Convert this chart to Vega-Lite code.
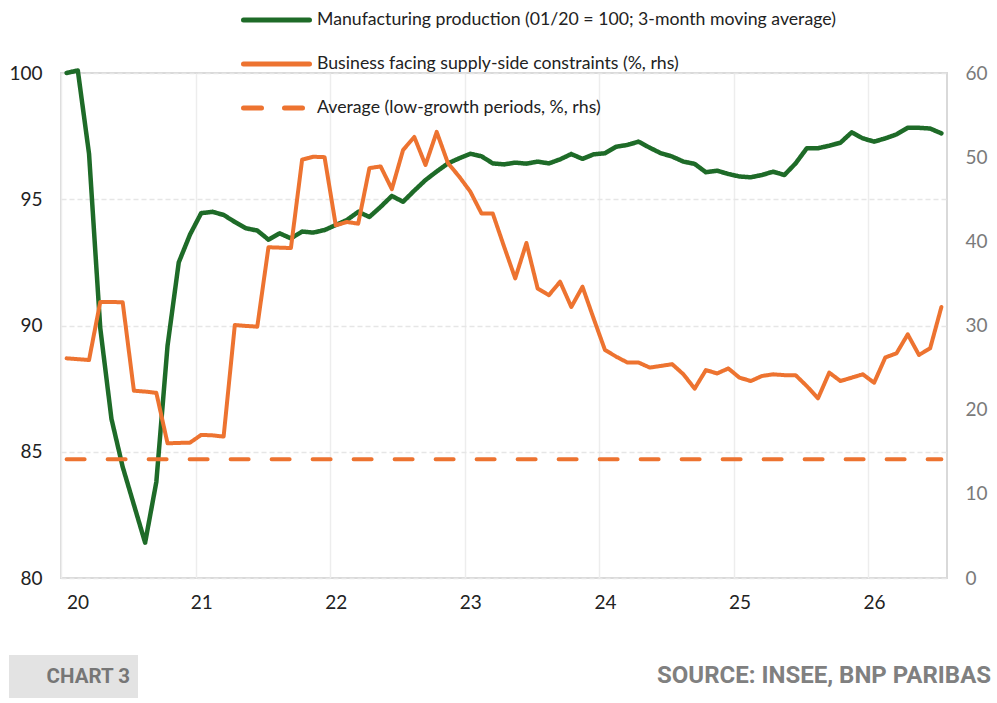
{
  "$schema": "https://vega.github.io/schema/vega-lite/v6.json",
  "width": 886,
  "height": 505,
  "autosize": {"type": "none"},
  "padding": {"left": 61, "top": 73, "right": 50, "bottom": 125},
  "background": "white",
  "config": {
    "view": {"stroke": "#d9d9d9", "strokeWidth": 2},
    "font": "Lato"
  },
  "title": {
    "text": "SOURCE: INSEE, BNP PARIBAS",
    "orient": "bottom",
    "anchor": "end",
    "frame": "bounds",
    "font": "Roboto",
    "fontSize": 24,
    "fontWeight": "bold",
    "color": "#808080",
    "offset": -34,
    "dx": 4
  },
  "datasets": {
    "monthly": [
      {"m": 0, "prod": 100.0, "supply": 26.1},
      {"m": 1, "prod": 100.1, "supply": 26.0},
      {"m": 2, "prod": 96.8, "supply": 25.9},
      {"m": 3, "prod": 89.9, "supply": 32.8},
      {"m": 4, "prod": 86.3, "supply": 32.8},
      {"m": 5, "prod": 84.4, "supply": 32.75},
      {"m": 6, "prod": 82.9, "supply": 22.25},
      {"m": 7, "prod": 81.4, "supply": 22.15},
      {"m": 8, "prod": 83.8, "supply": 22.0},
      {"m": 9, "prod": 89.2, "supply": 16.0},
      {"m": 10, "prod": 92.5, "supply": 16.05},
      {"m": 11, "prod": 93.6, "supply": 16.08},
      {"m": 12, "prod": 94.45, "supply": 17.0},
      {"m": 13, "prod": 94.5, "supply": 16.95},
      {"m": 14, "prod": 94.38, "supply": 16.8},
      {"m": 15, "prod": 94.1, "supply": 30.06},
      {"m": 16, "prod": 93.85, "supply": 29.95},
      {"m": 17, "prod": 93.76, "supply": 29.86},
      {"m": 18, "prod": 93.4, "supply": 39.3},
      {"m": 19, "prod": 93.65, "supply": 39.25},
      {"m": 20, "prod": 93.45, "supply": 39.2},
      {"m": 21, "prod": 93.72, "supply": 49.7},
      {"m": 22, "prod": 93.68, "supply": 50.05},
      {"m": 23, "prod": 93.78, "supply": 50.0},
      {"m": 24, "prod": 93.98, "supply": 41.9},
      {"m": 25, "prod": 94.18, "supply": 42.3},
      {"m": 26, "prod": 94.5, "supply": 42.1},
      {"m": 27, "prod": 94.3, "supply": 48.7},
      {"m": 28, "prod": 94.7, "supply": 48.9},
      {"m": 29, "prod": 95.13, "supply": 46.2},
      {"m": 30, "prod": 94.9, "supply": 50.85},
      {"m": 31, "prod": 95.34, "supply": 52.4},
      {"m": 32, "prod": 95.76, "supply": 49.07},
      {"m": 33, "prod": 96.1, "supply": 53.0},
      {"m": 34, "prod": 96.42, "supply": 49.3},
      {"m": 35, "prod": 96.62, "supply": 47.7},
      {"m": 36, "prod": 96.8, "supply": 45.9},
      {"m": 37, "prod": 96.7, "supply": 43.3},
      {"m": 38, "prod": 96.42, "supply": 43.3},
      {"m": 39, "prod": 96.38, "supply": 39.4},
      {"m": 40, "prod": 96.45, "supply": 35.6},
      {"m": 41, "prod": 96.41, "supply": 39.8},
      {"m": 42, "prod": 96.49, "supply": 34.4},
      {"m": 43, "prod": 96.42, "supply": 33.6},
      {"m": 44, "prod": 96.58, "supply": 35.2},
      {"m": 45, "prod": 96.79, "supply": 32.2},
      {"m": 46, "prod": 96.6, "supply": 34.6},
      {"m": 47, "prod": 96.78, "supply": 30.8},
      {"m": 48, "prod": 96.82, "supply": 27.1},
      {"m": 49, "prod": 97.08, "supply": 26.3},
      {"m": 50, "prod": 97.15, "supply": 25.6},
      {"m": 51, "prod": 97.28, "supply": 25.6},
      {"m": 52, "prod": 97.04, "supply": 25.0},
      {"m": 53, "prod": 96.82, "supply": 25.2},
      {"m": 54, "prod": 96.69, "supply": 25.4},
      {"m": 55, "prod": 96.49, "supply": 24.2},
      {"m": 56, "prod": 96.4, "supply": 22.5},
      {"m": 57, "prod": 96.07, "supply": 24.7},
      {"m": 58, "prod": 96.13, "supply": 24.3},
      {"m": 59, "prod": 96.0, "supply": 24.9},
      {"m": 60, "prod": 95.9, "supply": 23.8},
      {"m": 61, "prod": 95.87, "supply": 23.4},
      {"m": 62, "prod": 95.96, "supply": 24.0},
      {"m": 63, "prod": 96.09, "supply": 24.2},
      {"m": 64, "prod": 95.96, "supply": 24.1},
      {"m": 65, "prod": 96.42, "supply": 24.1},
      {"m": 66, "prod": 97.02, "supply": 22.8},
      {"m": 67, "prod": 97.02, "supply": 21.35},
      {"m": 68, "prod": 97.12, "supply": 24.4},
      {"m": 69, "prod": 97.24, "supply": 23.4},
      {"m": 70, "prod": 97.65, "supply": 23.8},
      {"m": 71, "prod": 97.41, "supply": 24.2},
      {"m": 72, "prod": 97.28, "supply": 23.2},
      {"m": 73, "prod": 97.41, "supply": 26.2},
      {"m": 74, "prod": 97.57, "supply": 26.7},
      {"m": 75, "prod": 97.83, "supply": 28.95},
      {"m": 76, "prod": 97.83, "supply": 26.5},
      {"m": 77, "prod": 97.8, "supply": 27.3},
      {"m": 78, "prod": 97.61, "supply": 32.2}
    ],
    "average": [
      {"m": 0, "avg": 14.1},
      {"m": 78, "avg": 14.1}
    ],
    "footer": [
      {"tag": "CHART 3"}
    ]
  },
  "resolve": {"scale": {"y": "independent"}},
  "layer": [
    {
      "data": {"name": "monthly"},
      "mark": {"type": "line", "strokeWidth": 4.5, "strokeCap": "round", "strokeJoin": "round"},
      "encoding": {
        "x": {
          "field": "m",
          "type": "quantitative",
          "scale": {"domain": [-0.5, 78.5], "nice": false, "zero": false},
          "axis": {
            "title": null,
            "values": [-0.5, 11.5, 23.5, 35.5, 47.5, 59.5, 71.5],
            "labelExpr": "'' + (20 + round((datum.value + 0.5) / 12))",
            "labelOffset": 5.6,
            "labelPadding": 15,
            "labelFont": "Lato",
            "labelFontSize": 19,
            "labelColor": "#222222",
            "ticks": false,
            "tickSize": 0,
            "domain": false,
            "grid": true,
            "gridColor": "#ededed",
            "gridWidth": 1.5
          }
        },
        "y": {
          "field": "prod",
          "type": "quantitative",
          "scale": {"domain": [80, 100], "nice": false, "zero": false},
          "axis": {
            "orient": "left",
            "title": null,
            "values": [80, 85, 90, 95, 100],
            "labelPadding": 19,
            "labelFont": "Lato",
            "labelFontSize": 19,
            "labelColor": "#222222",
            "ticks": false,
            "tickSize": 0,
            "domain": false,
            "grid": true,
            "gridColor": "#e6e6e6",
            "gridWidth": 1.5,
            "gridDash": [5, 3]
          }
        },
        "color": {
          "datum": "Manufacturing production (01/20 = 100; 3-month moving average)",
          "scale": {
            "domain": [
              "Manufacturing production (01/20 = 100; 3-month moving average)",
              "Business facing supply-side constraints (%, rhs)",
              "Average (low-growth periods, %, rhs)"
            ],
            "range": ["#1e6b28", "#ed7330", "#ed7330"]
          },
          "legend": {
            "title": null,
            "orient": "none",
            "legendX": 180,
            "legendY": -63,
            "padding": 0,
            "clipHeight": 20,
            "rowPadding": 24,
            "symbolType": "stroke",
            "symbolSize": 4356,
            "symbolStrokeWidth": 5,
            "symbolOffset": 0,
            "labelOffset": 5,
            "labelFont": "Lato",
            "labelFontSize": 17.7,
            "labelColor": "#222222",
            "labelLimit": 800,
            "encode": {"symbols": {"update": {"strokeCap": {"value": "round"}}}}
          }
        },
        "strokeDash": {
          "datum": "Manufacturing production (01/20 = 100; 3-month moving average)",
          "scale": {
            "domain": [
              "Manufacturing production (01/20 = 100; 3-month moving average)",
              "Business facing supply-side constraints (%, rhs)",
              "Average (low-growth periods, %, rhs)"
            ],
            "range": [[1, 0], [1, 0], [18, 23]]
          },
          "legend": null
        }
      }
    },
    {
      "layer": [
        {
          "data": {"name": "monthly"},
          "mark": {"type": "line", "strokeWidth": 4, "strokeCap": "round", "strokeJoin": "round"},
          "encoding": {
            "x": {"field": "m", "type": "quantitative"},
            "y": {
              "field": "supply",
              "type": "quantitative",
              "scale": {"domain": [0, 60], "nice": false},
              "axis": {
                "orient": "right",
                "title": null,
                "values": [0, 10, 20, 30, 40, 50, 60],
                "labelPadding": 18,
                "labelFont": "Lato",
                "labelFontSize": 19,
                "labelColor": "#7a7a7a",
                "ticks": false,
                "tickSize": 0,
                "domain": false,
                "grid": false
              }
            },
            "color": {"datum": "Business facing supply-side constraints (%, rhs)"},
            "strokeDash": {"datum": "Business facing supply-side constraints (%, rhs)"}
          }
        },
        {
          "data": {"name": "average"},
          "mark": {"type": "line", "strokeWidth": 4, "strokeCap": "round"},
          "encoding": {
            "x": {"field": "m", "type": "quantitative"},
            "y": {"field": "avg", "type": "quantitative", "scale": {"domain": [0, 60], "nice": false}},
            "color": {"datum": "Average (low-growth periods, %, rhs)"},
            "strokeDash": {"datum": "Average (low-growth periods, %, rhs)"}
          }
        }
      ]
    },
    {
      "data": {"name": "footer"},
      "mark": {"type": "point", "fillOpacity": 0, "strokeOpacity": 0},
      "encoding": {
        "shape": {
          "field": "tag",
          "type": "nominal",
          "legend": {
            "title": null,
            "orient": "none",
            "legendX": -52,
            "legendY": 582,
            "padding": 8,
            "fillColor": "#e3e3e3",
            "clipHeight": 27,
            "symbolType": "M-1,-0.15H1V0.15H-1Z",
            "symbolSize": 20736,
            "symbolStrokeWidth": 0,
            "symbolOffset": 0,
            "labelOffset": -31,
            "labelAlign": "right",
            "labelFont": "Roboto",
            "labelFontWeight": "bold",
            "labelFontSize": 20.5,
            "labelColor": "#767676",
            "labelLimit": 300,
            "encode": {"symbols": {"update": {"opacity": {"value": 1}, "fillOpacity": {"value": 1}, "strokeOpacity": {"value": 0}, "fill": {"value": "#e3e3e3"}}}}
          }
        }
      }
    }
  ]
}
